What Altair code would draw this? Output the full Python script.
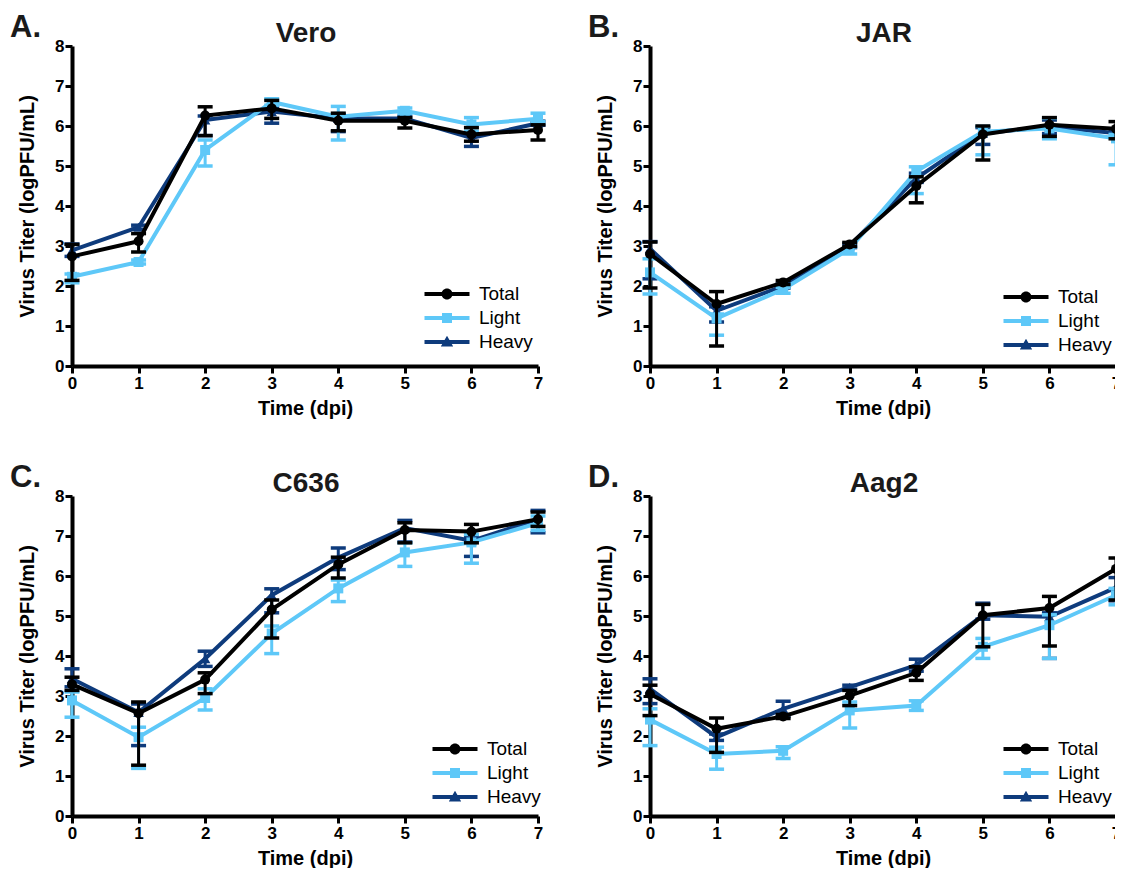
import altair as alt
import pandas as pd

FONT = "Liberation Sans, Arial, Helvetica, sans-serif"
DPI = [0, 1, 2, 3, 4, 5, 6, 7]
SERIES = ["Total", "Light", "Heavy"]
COLORS = ["#000000", "#5EC8F8", "#0E3B7C"]
DRAW_ORDER = ["Heavy", "Light", "Total"]
MARK_SHAPES = {"Total": "circle", "Light": "square", "Heavy": "triangle-up"}
MARK_SIZES = {"Total": 100, "Light": 100, "Heavy": 110}

# ---- Vero (A) ----
VERO_TOTAL = [2.74, 3.12, 6.26, 6.44, 6.13, 6.13, 5.79, 5.90]
VERO_TOTAL_LO = [0.60, 0.27, 0.50, 0.25, 0.25, 0.18, 0.17, 0.25]
VERO_TOTAL_HI = [0.30, 0.19, 0.22, 0.20, 0.19, 0.08, 0.17, 0.13]
VERO_LIGHT = [2.23, 2.60, 5.40, 6.60, 6.23, 6.38, 6.04, 6.18]
VERO_LIGHT_LO = [0.15, 0.05, 0.40, 0.08, 0.58, 0.07, 0.17, 0.07]
VERO_LIGHT_HI = [0.07, 0.05, 0.25, 0.08, 0.26, 0.07, 0.17, 0.14]
VERO_HEAVY = [2.89, 3.47, 6.15, 6.36, 6.19, 6.19, 5.70, 6.07]
VERO_HEAVY_LO = [0.15, 0.05, 0.39, 0.29, 0.33, 0.05, 0.21, 0.05]
VERO_HEAVY_HI = [0.16, 0.05, 0.10, 0.10, 0.10, 0.05, 0.10, 0.05]

# ---- JAR (B) ----
JAR_TOTAL = [2.80, 1.55, 2.09, 3.04, 4.50, 5.79, 6.03, 5.93]
JAR_TOTAL_LO = [0.85, 1.05, 0.05, 0.05, 0.42, 0.64, 0.29, 0.25]
JAR_TOTAL_HI = [0.30, 0.31, 0.05, 0.05, 0.23, 0.21, 0.18, 0.18]
JAR_LIGHT = [2.34, 1.19, 1.92, 2.93, 4.87, 5.86, 5.94, 5.69]
JAR_LIGHT_LO = [0.54, 0.42, 0.10, 0.13, 0.56, 0.58, 0.26, 0.66]
JAR_LIGHT_HI = [0.34, 0.11, 0.05, 0.05, 0.11, 0.13, 0.26, 0.10]
JAR_HEAVY = [2.93, 1.38, 2.00, 3.01, 4.69, 5.82, 5.98, 5.82]
JAR_HEAVY_LO = [0.75, 0.28, 0.05, 0.05, 0.10, 0.28, 0.17, 0.10]
JAR_HEAVY_HI = [0.18, 0.10, 0.05, 0.05, 0.13, 0.14, 0.17, 0.10]

# ---- C636 (C) ----
C636_TOTAL = [3.29, 2.57, 3.41, 5.16, 6.29, 7.15, 7.11, 7.42]
C636_TOTAL_LO = [0.15, 1.30, 0.35, 0.71, 0.34, 0.32, 0.28, 0.18]
C636_TOTAL_HI = [0.18, 0.28, 0.17, 0.24, 0.18, 0.18, 0.18, 0.18]
C636_LIGHT = [2.89, 1.97, 2.95, 4.56, 5.69, 6.59, 6.84, 7.32]
C636_LIGHT_LO = [0.42, 0.78, 0.30, 0.50, 0.33, 0.35, 0.52, 0.18]
C636_LIGHT_HI = [0.21, 0.25, 0.23, 0.19, 0.21, 0.24, 0.20, 0.18]
C636_HEAVY = [3.43, 2.59, 3.93, 5.52, 6.46, 7.20, 6.88, 7.42]
C636_HEAVY_LO = [0.20, 0.83, 0.19, 0.44, 0.30, 0.35, 0.39, 0.34]
C636_HEAVY_HI = [0.25, 0.21, 0.19, 0.16, 0.24, 0.19, 0.10, 0.22]

# ---- Aag2 (D) ----
AAG2_TOTAL = [3.05, 2.18, 2.49, 3.01, 3.58, 5.02, 5.20, 6.18]
AAG2_TOTAL_LO = [0.54, 0.59, 0.05, 0.25, 0.19, 0.79, 0.95, 0.78]
AAG2_TOTAL_HI = [0.22, 0.27, 0.05, 0.13, 0.15, 0.27, 0.29, 0.27]
AAG2_LIGHT = [2.41, 1.55, 1.63, 2.64, 2.76, 4.23, 4.77, 5.52]
AAG2_LIGHT_LO = [0.65, 0.38, 0.19, 0.44, 0.12, 0.29, 0.83, 0.24]
AAG2_LIGHT_HI = [0.27, 0.17, 0.10, 0.21, 0.12, 0.21, 0.26, 0.17]
AAG2_HEAVY = [3.18, 1.97, 2.68, 3.22, 3.77, 5.02, 4.98, 5.71]
AAG2_HEAVY_LO = [0.37, 0.08, 0.19, 0.05, 0.15, 0.10, 1.04, 0.33]
AAG2_HEAVY_HI = [0.25, 0.08, 0.19, 0.05, 0.15, 0.30, 0.10, 0.25]

# legend symbols: a line segment with the marker in the middle (unit = sqrt(size)/2 px)
LINE_PATH = "M-2.25,-0.2H2.25V0.2H-2.25Z"
LEGEND_PATHS = [
    LINE_PATH + " M0.55,0A0.55,0.55 0 1,1 -0.55,0A0.55,0.55 0 1,1 0.55,0Z",
    LINE_PATH + " M-0.5,-0.5H0.5V0.5H-0.5Z",
    LINE_PATH + " M0,-0.62L0.62,0.45H-0.62Z",
]

COLOR_OF = dict(zip(SERIES, COLORS))
PLOT_W = 466
PLOT_H = 320


def build_df(series_data):
    rows = []
    for name, (mean, lo, hi) in series_data.items():
        for d, m, l, h in zip(DPI, mean, lo, hi):
            rows.append({"dpi": d, "series": name, "mean": m, "lo": m - l, "hi": m + h})
    return pd.DataFrame(rows)


X_AXIS = alt.Axis(values=DPI, title="Time (dpi)", format="d", grid=False, labelFlush=False,
                  labelPadding=2, titlePadding=7)
Y_AXIS = alt.Axis(values=list(range(9)), title="Virus Titer (logPFU/mL)", format="d", grid=False,
                  labelPadding=1, titlePadding=17)
X_SCALE = alt.Scale(domain=[0, 7], nice=False, zero=False)
Y_SCALE = alt.Scale(domain=[0, 8], nice=False, zero=False)


def xenc():
    return alt.X("dpi:Q", scale=X_SCALE, axis=X_AXIS)


def yenc(field):
    return alt.Y(f"{field}:Q", scale=Y_SCALE, axis=Y_AXIS)


def panel(series_data, title, letter, leg_x, leg_y):
    df = build_df(series_data)
    layers = []
    for s in DRAW_ORDER:
        c = COLOR_OF[s]
        base = alt.Chart(df).transform_filter(alt.datum.series == s)
        layers.append(base.mark_line(color=c, strokeWidth=4, opacity=1).encode(x=xenc(), y=yenc("mean")))
        layers.append(base.mark_rule(color=c, strokeWidth=3, opacity=1).encode(
            x=xenc(), y=yenc("lo"), y2="hi:Q"))
        for f in ["lo", "hi"]:
            layers.append(base.mark_tick(color=c, thickness=3.5, size=15, orient="horizontal",
                                         opacity=1).encode(x=xenc(), y=yenc(f)))
        layers.append(base.mark_point(filled=True, color=c, opacity=1, size=MARK_SIZES[s],
                                      shape=MARK_SHAPES[s], strokeWidth=0).encode(x=xenc(), y=yenc("mean")))
    leg = alt.Legend(orient="none", legendX=leg_x, legendY=leg_y, title=None,
                     labelFontSize=19, labelFont=FONT, labelColor="black", labelFontWeight="normal",
                     symbolSize=400, symbolStrokeWidth=0, rowPadding=4, labelOffset=22,
                     padding=0, symbolOffset=0, labelBaseline="middle")
    legend_layer = alt.Chart(df).transform_filter("false").mark_point(filled=True, opacity=1).encode(
        color=alt.Color("series:N", scale=alt.Scale(domain=SERIES, range=COLORS), legend=leg),
        shape=alt.Shape("series:N", scale=alt.Scale(domain=SERIES, range=LEGEND_PATHS), legend=leg),
    )
    letter_layer = alt.Chart(pd.DataFrame({"t": [letter]})).mark_text(
        align="left", baseline="alphabetic", fontSize=31, fontWeight="bold", color="#1a1a1a", font=FONT
    ).encode(text="t:N", x=alt.value(-62), y=alt.value(-9))
    title_layer = alt.Chart(pd.DataFrame({"t": [title]})).mark_text(
        align="center", baseline="alphabetic", fontSize=28, fontWeight="bold", color="#1a1a1a", font=FONT
    ).encode(text="t:N", x=alt.value(PLOT_W / 2 + 1), y=alt.value(-4))
    return alt.layer(*layers, legend_layer, letter_layer, title_layer).properties(
        width=PLOT_W, height=PLOT_H,
    )


A = panel({"Total": (VERO_TOTAL, VERO_TOTAL_LO, VERO_TOTAL_HI),
           "Light": (VERO_LIGHT, VERO_LIGHT_LO, VERO_LIGHT_HI),
           "Heavy": (VERO_HEAVY, VERO_HEAVY_LO, VERO_HEAVY_HI)}, "Vero", "A.", 365, 238)
B = panel({"Total": (JAR_TOTAL, JAR_TOTAL_LO, JAR_TOTAL_HI),
           "Light": (JAR_LIGHT, JAR_LIGHT_LO, JAR_LIGHT_HI),
           "Heavy": (JAR_HEAVY, JAR_HEAVY_LO, JAR_HEAVY_HI)}, "JAR", "B.", 366, 241)
C = panel({"Total": (C636_TOTAL, C636_TOTAL_LO, C636_TOTAL_HI),
           "Light": (C636_LIGHT, C636_LIGHT_LO, C636_LIGHT_HI),
           "Heavy": (C636_HEAVY, C636_HEAVY_LO, C636_HEAVY_HI)}, "C636", "C.", 373, 243)
D = panel({"Total": (AAG2_TOTAL, AAG2_TOTAL_LO, AAG2_TOTAL_HI),
           "Light": (AAG2_LIGHT, AAG2_LIGHT_LO, AAG2_LIGHT_HI),
           "Heavy": (AAG2_HEAVY, AAG2_HEAVY_LO, AAG2_HEAVY_HI)}, "Aag2", "D.", 366, 243)

chart = alt.concat(A, B, C, D, columns=2, spacing={"row": 44, "column": 42}).resolve_scale(
    color="independent", shape="independent"
).configure(
    padding={"left": 2, "top": 4, "right": -9, "bottom": 0}, font=FONT
).configure_view(stroke=None).configure_axis(
    domainColor="black", domainWidth=4, tickColor="black", tickWidth=3, tickSize=7,
    labelFontSize=17, labelFontWeight="bold", labelColor="black", labelFont=FONT,
    titleFontSize=20, titleFontWeight="bold", titleColor="black", titleFont=FONT,
)

chart.save("out.html", embed_options={"renderer": "svg", "actions": False})
